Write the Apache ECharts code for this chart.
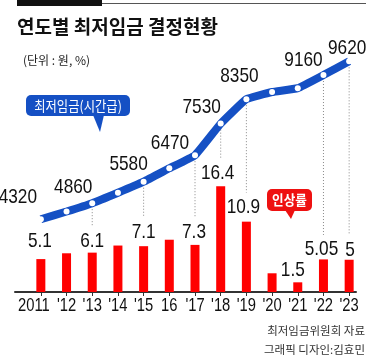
<!DOCTYPE html>
<html><head><meta charset="utf-8">
<script src="https://cdn.jsdelivr.net/npm/echarts@6/dist/echarts.min.js"></script>
<style>html,body{margin:0;padding:0;background:#fff}#c{width:371px;height:361px}</style>
</head><body><div id="c"></div>
<script>
// ---- data ----
const years = ['2011', "'12", "'13", "'14", "'15", '16', "'17", "'18", "'19", "'20", "'21", "'22", "'23"];
const wage = [4320, 4580, 4860, 5210, 5580, 6030, 6470, 7530, 8350, 8590, 8720, 9160, 9620];
const rate = [5.1, 6.0, 6.1, 7.2, 7.1, 8.1, 7.3, 16.4, 10.9, 2.9, 1.5, 5.05, 5];
const wageLabelIdx = [0, 2, 4, 6, 7, 8, 11, 12];
const rateLabelIdx = [0, 2, 4, 6, 7, 8, 10, 11, 12];
const leaderIdx = [2, 4, 6, 7, 8, 11, 12];

// ---- styling: label centre relative to the mark (px) ----
const wageLabelOffset = {0: [-23, -22], 2: [-19, -15.5], 4: [-15, -18], 6: [-25, -12], 7: [-19, -16], 8: [-7, -23], 11: [-20, -15], 12: [-2, -13]};
const rateLabelOffset = {0: [-1, -18], 2: [0, -11.5], 4: [0, -14], 6: [-1, -13], 7: [-3, -12.5], 8: [-3, -14.5], 10: [-5, -12.5], 11: [-2, -10], 12: [1, -10]};
const catLabelDx = {0: -7};

const L_MIN = 1880, L_MAX = 10000, B_MAX = 37.5;
const BLUE = '#1550c4', RED = '#ff0000';
const NUM = '"Liberation Sans Narrow","Liberation Sans",Arial,sans-serif';
const KR = '"Noto Sans CJK KR",sans-serif';
const NARROW = 0.82;

const chart = echarts.init(document.getElementById('c'), null, {renderer: 'canvas'});

function numText(x, y, text, size) {
  return {type: 'text', x: x, y: y, scaleX: NARROW, scaleY: 1,
          style: {x: 0, y: 0, text: text, fill: '#111', font: size + 'px ' + NUM,
                  textAlign: 'center', textVerticalAlign: 'middle'}};
}

chart.setOption({
  animation: false,
  grid: [
    {left: 28, right: 9, top: 50, bottom: 69},
    {left: 15, right: 15, top: 50, bottom: 69}
  ],
  xAxis: [
    {type: 'category', data: years, gridIndex: 0, boundaryGap: true,
     axisLine: {show: false},
     axisTick: {show: true, alignWithLabel: true, interval: 0, length: 4, lineStyle: {color: '#333', width: 1}},
     axisLabel: {show: false}},
    {type: 'value', gridIndex: 1, min: 0, max: 1,
     axisLine: {show: true, onZero: false, lineStyle: {color: '#333', width: 2}},
     axisTick: {show: false}, axisLabel: {show: false}, splitLine: {show: false}}
  ],
  yAxis: [
    {type: 'value', gridIndex: 0, min: 0, max: B_MAX, show: false, splitLine: {show: false}},
    {type: 'value', gridIndex: 0, min: L_MIN, max: L_MAX, show: false, splitLine: {show: false}},
    {type: 'value', gridIndex: 1, min: 0, max: 1, show: false}
  ],
  series: [
    {type: 'bar', name: 'rate', xAxisIndex: 0, yAxisIndex: 0, data: rate, barWidth: 9, z: 2,
     itemStyle: {color: RED}},
    // dotted leaders from wage points down to rate labels
    {type: 'custom', xAxisIndex: 0, yAxisIndex: 1, data: leaderIdx.map(i => [i, wage[i], rate[i]]), z: 1, silent: true, clip: false,
     renderItem: function (params, api) {
       const i = api.value(0);
       const top = api.coord([i, api.value(1)]);
       const barTopAsLine = L_MIN + api.value(2) / B_MAX * (L_MAX - L_MIN);
       const bt = api.coord([i, barTopAsLine]);
       const off = rateLabelOffset[i] || [0, 0];
       const endY = bt[1] + off[1] - 7.5 - 7;
       return {type: 'line', shape: {x1: top[0], y1: top[1], x2: top[0], y2: endY},
               style: {stroke: '#888', lineWidth: 1, lineDash: [1, 2]}};
     }},
    {type: 'line', name: 'wage', xAxisIndex: 0, yAxisIndex: 1, data: wage, z: 3, smooth: 0.1,
     lineStyle: {color: BLUE, width: 8},
     symbol: 'circle', symbolSize: 6, itemStyle: {color: '#fff', borderWidth: 0}},
    // wage value labels
    {type: 'custom', xAxisIndex: 0, yAxisIndex: 1, data: wageLabelIdx.map(i => [i, wage[i]]), z: 4, silent: true, clip: false,
     renderItem: function (params, api) {
       const i = api.value(0), v = api.value(1);
       const p = api.coord([i, v]);
       const o = wageLabelOffset[i] || [0, 0];
       return numText(p[0] + o[0], p[1] + o[1], String(v), 21);
     }},
    // rate value labels
    {type: 'custom', xAxisIndex: 0, yAxisIndex: 0, data: rateLabelIdx.map(i => [i, rate[i]]), z: 4, silent: true, clip: false,
     renderItem: function (params, api) {
       const i = api.value(0), v = api.value(1);
       const p = api.coord([i, v]);
       const o = rateLabelOffset[i] || [0, 0];
       return numText(p[0] + o[0], p[1] + o[1], String(v), 21);
     }},
    // category labels under the axis
    {type: 'custom', xAxisIndex: 0, yAxisIndex: 0, data: years.map((y, i) => [i, 0]), z: 4, silent: true, clip: false,
     renderItem: function (params, api) {
       const i = api.value(0);
       const p = api.coord([i, 0]);
       return numText(p[0] + (catLabelDx[i] || 0), p[1] + 14, years[i], 18);
     }}
  ],
  graphic: [
    {type: 'rect', shape: {x: 17, y: 0, width: 85, height: 6}, style: {fill: '#111'}},
    {type: 'line', shape: {x1: 102, y1: 3.5, x2: 366, y2: 3.5}, style: {stroke: '#555', lineWidth: 1}},
    {type: 'text', x: 17, y: 27, style: {text: '연도별 최저임금 결정현황', fill: '#111', font: 'bold 19px ' + KR, textVerticalAlign: 'middle'}},
    {type: 'text', x: 23, y: 60, style: {text: '(단위 : 원, %)', fill: '#222', font: '12px ' + KR, textVerticalAlign: 'middle'}},
    // blue callout
    {type: 'polygon', shape: {points: [[93, 115], [104, 115], [100, 132]]}, style: {fill: BLUE}},
    {type: 'rect', shape: {x: 26, y: 95, width: 104, height: 21, r: 5}, style: {fill: BLUE}},
    {type: 'text', x: 78, y: 105.5, scaleX: 0.88, style: {text: '최저임금(시간급)', fill: '#fff', font: '14px ' + KR, textAlign: 'center', textVerticalAlign: 'middle'}},
    // red callout
    {type: 'polygon', shape: {points: [[285, 210], [295, 210], [291, 219]]}, style: {fill: '#ee1111'}},
    {type: 'rect', shape: {x: 267, y: 189, width: 45, height: 22, r: 5}, style: {fill: '#ee1111'}},
    {type: 'text', x: 289.5, y: 200, scaleX: 0.9, style: {text: '인상률', fill: '#fff', font: 'bold 14px ' + KR, textAlign: 'center', textVerticalAlign: 'middle'}},
    // footer
    {type: 'text', x: 365, y: 331, style: {text: '최저임금위원회 자료', fill: '#333', font: '11.5px ' + KR, textAlign: 'right', textVerticalAlign: 'middle'}},
    {type: 'text', x: 365, y: 350, style: {text: '그래픽 디자인:김효민', fill: '#333', font: '11.5px ' + KR, textAlign: 'right', textVerticalAlign: 'middle'}}
  ]
});
</script>
</body></html>
